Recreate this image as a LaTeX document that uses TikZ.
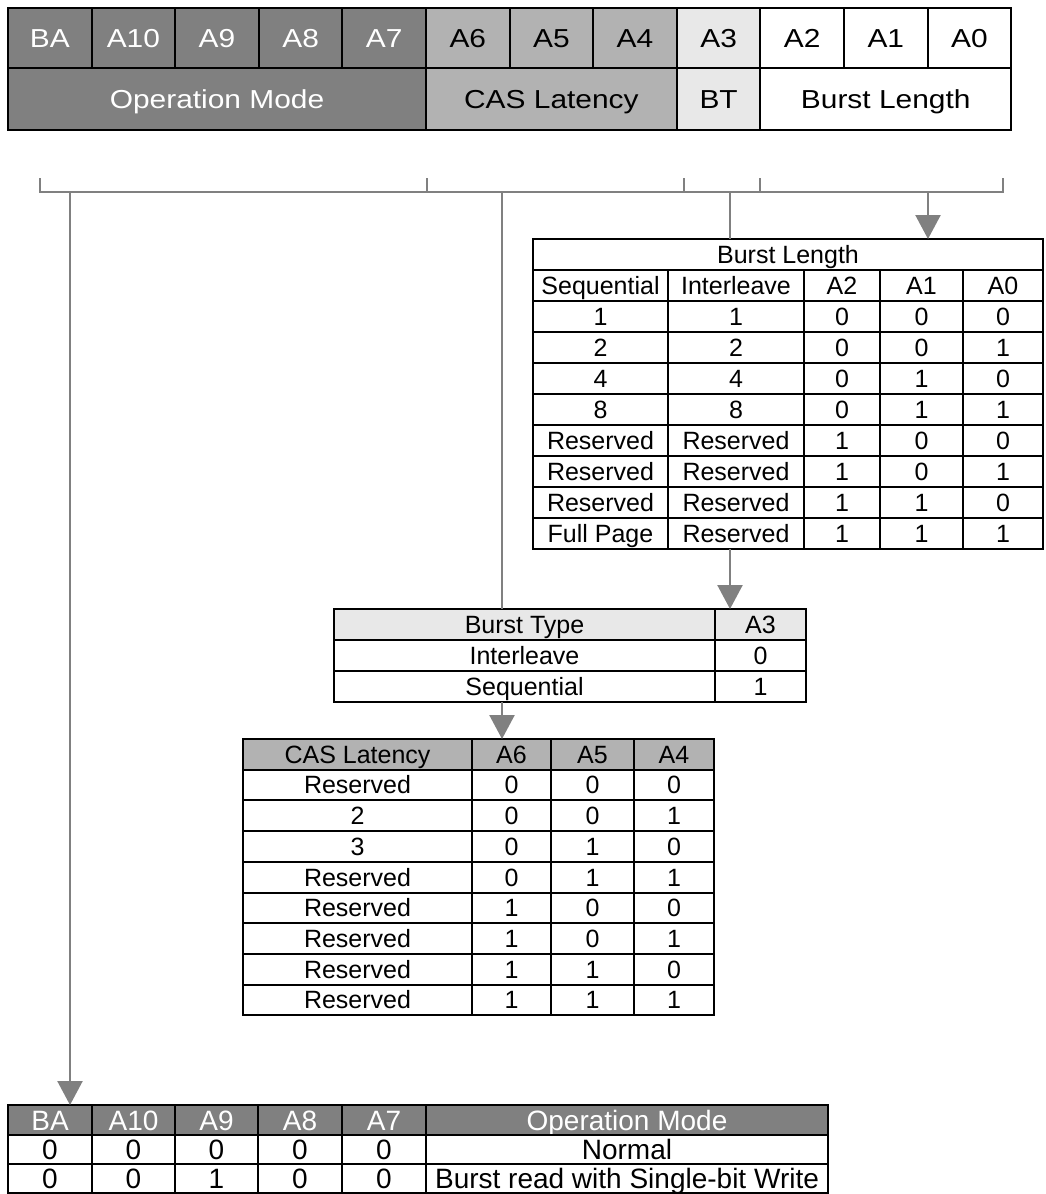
\documentclass[tikz,border=0pt]{standalone}
\usepackage{fontspec}
\setmainfont{Liberation Sans}
\newfontfamily\regfont[FakeStretch=1.15]{Liberation Sans}
\usetikzlibrary{arrows.meta,positioning,calc}
\definecolor{opgray}{RGB}{128,128,128}
\definecolor{casgray}{RGB}{178,178,178}
\definecolor{btgray}{RGB}{232,232,232}
\definecolor{linkgray}{RGB}{128,128,128}

\begin{document}
\begin{tikzpicture}[x=0.5pt, y=-0.5pt,
    every node/.style={font=\fontsize{12.5}{15}\selectfont, inner sep=0pt, text height=8.9pt, text depth=0pt},
    regtext/.style={font=\regfont\fontsize{13}{15}\selectfont, text height=9.3pt},
    modetext/.style={font=\fontsize{14}{16}\selectfont, text height=10pt},
    cell/.style={draw=black, line width=1pt},
    link/.style={draw=linkgray, line width=1.2pt},
    tip/.style={-{Triangle[length=12pt,width=12.5pt]}, linkgray}]
  \useasboundingbox (0,0) rectangle (1045,1194);

  % mode register bits
  \foreach \lbl [count=\k from 0] in {BA,A10,A9,A8,A7} {
    \draw[cell,fill=opgray] ({8+83.6*\k},8) rectangle ({8+83.6*(\k+1)},68);
    \node[regtext,text=white] (reg-\lbl) at ({8+83.6*(\k+0.5)},38) {\lbl};
  }
  \foreach \lbl [count=\k from 5] in {A6,A5,A4} {
    \draw[cell,fill=casgray] ({8+83.6*\k},8) rectangle ({8+83.6*(\k+1)},68);
    \node[regtext] (reg-\lbl) at ({8+83.6*(\k+0.5)},38) {\lbl};
  }
  \draw[cell,fill=btgray] (676.8,8) rectangle (760.4,68);
  \node[regtext] (reg-A3) at (718.6,38) {A3};
  \foreach \lbl [count=\k from 9] in {A2,A1,A0} {
    \draw[cell,fill=white] ({8+83.6*\k},8) rectangle ({8+83.6*(\k+1)},68);
    \node[regtext] (reg-\lbl) at ({8+83.6*(\k+0.5)},38) {\lbl};
  }
  % field names
  \draw[cell,fill=opgray] (8,68) rectangle (426,130);
  \node[regtext,text=white] (fld-om) at (217,99) {Operation Mode};
  \draw[cell,fill=casgray] (426,68) rectangle (676.8,130);
  \node[regtext] (fld-cas) at (551.4,99) {CAS Latency};
  \draw[cell,fill=btgray] (676.8,68) rectangle (760.4,130);
  \node[regtext] (fld-bt) at (718.6,99) {BT};
  \draw[cell,fill=white] (760.4,68) rectangle (1011,130);
  \node[regtext] (fld-bl) at (885.7,99) {Burst Length};

  % bracket under the register
  \draw[link] (40,178) -- (40,192) -- (1003,192) -- (1003,178);
  \foreach \x in {427,684,760}
    \draw[link] (\x,178) -- (\x,192);
  \coordinate (om-src) at (70,192);
  \coordinate (cas-src) at (502,192);
  \coordinate (bt-src) at (730,192);
  \coordinate (bl-src) at (928,192);

  % burst length table
  \draw[cell] (533,239) rectangle (1043,270);
  \node (bl-title) at (788,254.5) {Burst Length};
  \foreach \a/\b/\lbl [count=\c] in {533/668/Sequential,668/804/Interleave,804/880/A2,880/963/A1,963/1043/A0} {
    \draw[cell] (\a,270) rectangle (\b,301);
    \node (bl-h\c) at ({(\a+\b)/2},285.5) {\lbl};
  }
  \foreach \sq/\il/\p/\q/\s [count=\r from 0] in {1/1/0/0/0,2/2/0/0/1,4/4/0/1/0,8/8/0/1/1,
      Reserved/Reserved/1/0/0,Reserved/Reserved/1/0/1,Reserved/Reserved/1/1/0,Full Page/Reserved/1/1/1} {
    \draw[cell] (533,{301+31*\r}) rectangle (668,{332+31*\r});
    \draw[cell] (668,{301+31*\r}) rectangle (804,{332+31*\r});
    \draw[cell] (804,{301+31*\r}) rectangle (880,{332+31*\r});
    \draw[cell] (880,{301+31*\r}) rectangle (963,{332+31*\r});
    \draw[cell] (963,{301+31*\r}) rectangle (1043,{332+31*\r});
    \node (bl-\r-1) at (600.5,{316.5+31*\r}) {\sq};
    \node (bl-\r-2) at (736,{316.5+31*\r}) {\il};
    \node (bl-\r-3) at (842,{316.5+31*\r}) {\p};
    \node (bl-\r-4) at (921.5,{316.5+31*\r}) {\q};
    \node (bl-\r-5) at (1003,{316.5+31*\r}) {\s};
  }
  \coordinate (bl-in) at (928,239);
  \coordinate (bt-thru) at (730,239);
  \coordinate (bl-out) at (730,549);

  % burst type table
  \draw[cell,fill=btgray] (334,609) rectangle (715,640);
  \draw[cell,fill=btgray] (715,609) rectangle (806,640);
  \node (bt-h1) at (524.5,624.5) {Burst Type};
  \node (bt-h2) at (760.5,624.5) {A3};
  \foreach \name/\val [count=\r from 0] in {Interleave/0,Sequential/1} {
    \draw[cell] (334,{640+31*\r}) rectangle (715,{671+31*\r});
    \draw[cell] (715,{640+31*\r}) rectangle (806,{671+31*\r});
    \node (bt-\r-1) at (524.5,{655.5+31*\r}) {\name};
    \node (bt-\r-2) at (760.5,{655.5+31*\r}) {\val};
  }
  \coordinate (bt-in) at (730,609);
  \coordinate (cas-thru) at (502,609);
  \coordinate (bt-out) at (502,702);

  % cas latency table
  \foreach \a/\b/\lbl [count=\c] in {243/472/CAS Latency,472/551/A6,551/634/A5,634/714/A4} {
    \draw[cell,fill=casgray] (\a,739) rectangle (\b,769.7);
    \node (cas-h\c) at ({(\a+\b)/2},754.3) {\lbl};
  }
  \foreach \lat/\p/\q/\s [count=\r from 1] in {Reserved/0/0/0,2/0/0/1,3/0/1/0,Reserved/0/1/1,
      Reserved/1/0/0,Reserved/1/0/1,Reserved/1/1/0,Reserved/1/1/1} {
    \draw[cell] (243,{739+30.7*\r}) rectangle (472,{769.7+30.7*\r});
    \draw[cell] (472,{739+30.7*\r}) rectangle (551,{769.7+30.7*\r});
    \draw[cell] (551,{739+30.7*\r}) rectangle (634,{769.7+30.7*\r});
    \draw[cell] (634,{739+30.7*\r}) rectangle (714,{769.7+30.7*\r});
    \node (cas-\r-1) at (357.5,{754.3+30.7*\r}) {\lat};
    \node (cas-\r-2) at (511.5,{754.3+30.7*\r}) {\p};
    \node (cas-\r-3) at (592.5,{754.3+30.7*\r}) {\q};
    \node (cas-\r-4) at (674,{754.3+30.7*\r}) {\s};
  }
  \coordinate (cas-in) at (502,739);

  % operation mode table
  \foreach \a/\b/\lbl [count=\c] in {8/92/BA,92/175/A10,175/258/A9,258/342/A8,342/426/A7,426/828/Operation Mode} {
    \draw[cell,fill=opgray] (\a,1105) rectangle (\b,1135);
    \node[modetext,text=white] (om-h\c) at ({(\a+\b)/2},1120) {\lbl};
  }
  \foreach \ba/\ten/\nine/\eight/\seven/\mode [count=\r from 0] in {0/0/0/0/0/Normal,0/0/1/0/0/Burst read with Single-bit Write} {
    \foreach \a/\b [count=\c] in {8/92,92/175,175/258,258/342,342/426,426/828}
      \draw[cell] (\a,{1135+29*\r}) rectangle (\b,{1164+29*\r});
    \node[modetext] (om-\r-1) at (50,{1149.5+29*\r}) {\ba};
    \node[modetext] (om-\r-2) at (133.5,{1149.5+29*\r}) {\ten};
    \node[modetext] (om-\r-3) at (216.5,{1149.5+29*\r}) {\nine};
    \node[modetext] (om-\r-4) at (300,{1149.5+29*\r}) {\eight};
    \node[modetext] (om-\r-5) at (384,{1149.5+29*\r}) {\seven};
    \node[modetext] (om-\r-6) at (627,{1149.5+29*\r}) {\mode};
  }
  \coordinate (om-in) at (70,1105);

  % connectors
  \draw[link] (bt-src) -- (bt-thru);
  \draw[link,tip] (bl-src) -- (bl-in);
  \draw[link,tip] (bl-out) -- (bt-in);
  \draw[link] (cas-src) -- (cas-thru);
  \draw[link,tip] (bt-out) -- (cas-in);
  \draw[link,tip] (om-src) -- (om-in);
\end{tikzpicture}
\end{document}
